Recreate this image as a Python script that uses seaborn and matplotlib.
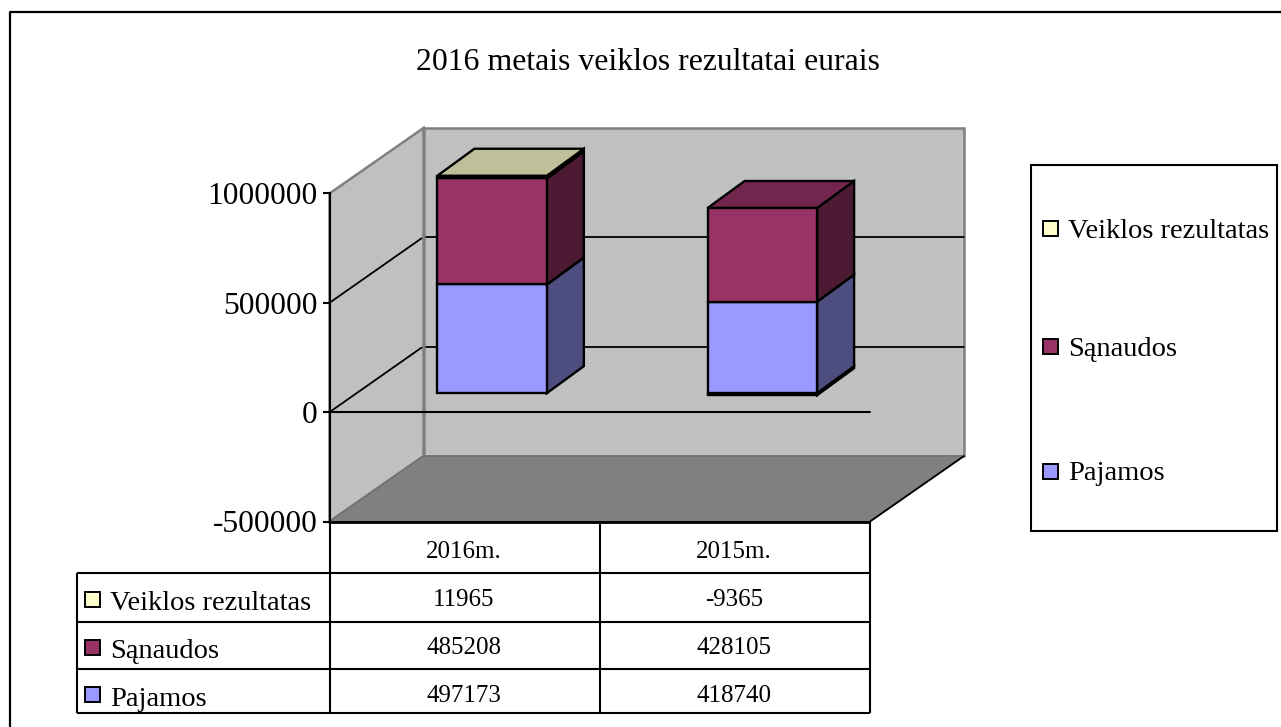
import numpy as np
import pandas as pd
import seaborn as sns
import matplotlib
matplotlib.use("Agg")
import matplotlib.pyplot as plt
from matplotlib.lines import Line2D
from matplotlib.patches import Polygon, Rectangle
from matplotlib.transforms import Affine2D, IdentityTransform

# ---------- data ----------
title = "2016 metais veiklos rezultatai eurais"
years = ["2016m.", "2015m."]
pajamos = [497173, 418740]
sanaudos = [485208, 428105]
veiklos = [11965, -9365]
series_names = ["Pajamos", "Sąnaudos", "Veiklos rezultatas"]
yticks = [-500000, 0, 500000, 1000000]

# ---------- style ----------
colors = ["#9999FF", "#993366", "#FFFFCC"]
W, H = 1281, 727
sns.set_theme(style="white")
plt.rcParams["font.family"] = ["Liberation Serif", "DejaVu Serif"]
plt.rcParams["font.size"] = 18

fig = plt.figure(figsize=(W / 100, H / 100), dpi=100, facecolor="white")
PX = Affine2D().scale(1, -1).translate(0, H)  # screen pixels, y downwards


def axes_rect(x0, y0, x1, y1):
    return [x0 / W, (H - y1) / H, (x1 - x0) / W, (y1 - y0) / H]


def pline(xs, ys, color="black", lw=1.5, z=1):
    fig.add_artist(Line2D(xs, ys, color=color, lw=lw, transform=PX, zorder=z,
                          solid_capstyle="butt"))


def ptext(x, y, s, size=18, ha="left", va="center_baseline"):
    fig.text(x / W, 1 - y / H, s, fontsize=size, ha=ha, va=va, color="black", zorder=5)


# geometry of the 3-D box, in pixels
FRONT = (329.5, 193.5, 870, 521.5)
DEPTH = np.array([94, 65.5])      # wall depth (right, up)
BAR_SHIFT = np.array([27.5, 19])  # bar plane offset
BAR_DEPTH = np.array([37, 27])  # bar depth

# front plane axes: carries the value axis
ax = fig.add_axes(axes_rect(*FRONT), zorder=1)
ax.patch.set_alpha(0)
ax.set_xlim(-0.5, 1.5)
ax.set_ylim(yticks[0], yticks[-1])
ax.set_xticks([])
ax.set_yticks(yticks)
ax.set_yticklabels([str(t) for t in yticks], fontsize=22.7, color="black")
ax.tick_params(axis="y", length=5, width=1.5, color="black", pad=3.5, left=True, labelcolor="black")
for name, spine in ax.spines.items():
    spine.set_visible(name == "left")
ax.spines["left"].set_color("black")
ax.spines["left"].set_linewidth(1.5)
fig.canvas.draw()

# walls and floor, derived from the front-plane scale
x0, x1 = ax.get_xlim()
ymin, ymax = ax.get_ylim()
to_disp = ax.transData.transform
(fl, fb), (fr, ft) = to_disp([(x0, ymin), (x1, ymax)])
dx, dy = DEPTH
wall_kw = dict(transform=IdentityTransform(), closed=True, zorder=0.2)
ax.add_patch(Polygon([(fl, fb), (fl + dx, fb + dy), (fl + dx, ft + dy), (fl, ft)],
                     facecolor="#C0C0C0", edgecolor="#808080", lw=1.8, clip_on=False, **wall_kw))
ax.add_patch(Polygon([(fl + dx, fb + dy), (fr + dx, fb + dy), (fr + dx, ft + dy), (fl + dx, ft + dy)],
                     facecolor="#C0C0C0", edgecolor="#808080", lw=1.8, clip_on=False, **wall_kw))
ax.add_patch(Polygon([(fl, fb), (fr, fb), (fr + dx, fb + dy), (fl + dx, fb + dy)],
                     facecolor="#808080", edgecolor="#707070", lw=1, clip_on=False, **wall_kw))
ax.add_artist(Line2D([fr, fr + dx], [fb, fb + dy], color="black", lw=1.3,
                     transform=IdentityTransform(), clip_on=False, zorder=0.3))
for t in yticks[1:-1]:
    _, yy = to_disp((x0, t))
    ax.add_artist(Line2D([fl, fl + dx - 2], [yy, yy + dy - 1], color="black", lw=1.3,
                         transform=IdentityTransform(), clip_on=False, zorder=0.4))
    ax.add_artist(Line2D([fl + dx + 2, fr + dx], [yy + dy, yy + dy], color="black", lw=1.3,
                         transform=IdentityTransform(), clip_on=False, zorder=0.4))
ax.axhline(0, color="black", lw=1.5, zorder=0.5, clip_on=False)

# bar plane axes: same scale, shifted into the box
bx0, by0, bx1, by1 = FRONT
axb = fig.add_axes(axes_rect(bx0 + BAR_SHIFT[0], by0 - BAR_SHIFT[1],
                             bx1 + BAR_SHIFT[0], by1 - BAR_SHIFT[1]), zorder=2)
axb.patch.set_alpha(0)

arrays = [np.array(pajamos, float), np.array(sanaudos, float), np.array(veiklos, float)]
pos_base = np.zeros(2)
neg_base = np.zeros(2)
for name, vals, col in zip(series_names, arrays, colors):
    bottoms = np.where(vals >= 0, pos_base, neg_base)
    df = pd.DataFrame({"year": years, "value": vals})
    sns.barplot(data=df, x="year", y="value", order=years, ax=axb, bottom=bottoms,
                color=col, saturation=1, width=0.405, edgecolor="black", linewidth=1.7,
                errorbar=None)
    pos_base = pos_base + np.where(vals >= 0, vals, 0)
    neg_base = neg_base + np.where(vals < 0, vals, 0)

axb.set_xlim(-0.5, 1.5)
axb.set_ylim(yticks[0], yticks[-1])
axb.set_axis_off()
fig.canvas.draw()


def shade(c, f):
    r = np.array(matplotlib.colors.to_rgb(c)) * f
    return tuple(r)


bdx, bdy = BAR_DEPTH
for patch in list(axb.patches):
    x, w = patch.get_x(), patch.get_width()
    y, h = patch.get_y(), patch.get_height()
    lo, hi = min(y, y + h), max(y, y + h)
    (xl, yl), (xr, yh) = axb.transData.transform([(x, lo), (x + w, hi)])
    z = 3 + (lo - yticks[0]) / 1e7
    fc = patch.get_facecolor()
    patch.set_zorder(z + 1e-6)
    pk = dict(transform=IdentityTransform(), closed=True, edgecolor="black", lw=1.7,
              zorder=z, clip_on=False, joinstyle="miter")
    axb.add_patch(Polygon([(xr, yl), (xr + bdx, yl + bdy), (xr + bdx, yh + bdy), (xr, yh)],
                          facecolor=shade(fc[:3], 0.5), **pk))
    axb.add_patch(Polygon([(xl, yh), (xr, yh), (xr + bdx, yh + bdy), (xl + bdx, yh + bdy)],
                          facecolor=shade(fc[:3], 0.75), **pk))

# outer chart frame
pline([9.5, 9.5, W], [H, 12, 12], lw=1.6, z=0)

# title
ptext(647.5, 59, title, size=22.9, ha="center")

# data table
tx = [76.5, 329.5, 600, 870]
rows_y = [572.5, 621.5, 669, 713]
pline([FRONT[0], FRONT[2]], [522, 522], lw=2, z=3)
pline([tx[0], tx[3]], [rows_y[0]] * 2)
pline([tx[0], tx[3]], [rows_y[1]] * 2)
pline([tx[0], tx[3]], [rows_y[2]] * 2)
pline([tx[0], tx[3]], [rows_y[3]] * 2)
pline([tx[0]] * 2, [rows_y[0], rows_y[3]])
for xv in tx[1:]:
    pline([xv, xv], [522, rows_y[3]])

mid_x = [(tx[1] + tx[2]) / 2 - 1, (tx[2] + tx[3]) / 2 - 1]
for mx, yr in zip(mid_x, years):
    ptext(mx, 550, yr, ha="center")

row_centres = [693, 645, 597]
key_centres = [694, 647, 599]
text_ys = [696, 648, 601]
for i, (name, vals, col) in enumerate(zip(series_names, arrays, colors)):
    fig.add_artist(Rectangle((84.5, key_centres[i] - 7.5), 15.5, 15, facecolor=col,
                             edgecolor="black", lw=1.4, transform=PX, zorder=3))
    ptext(110, text_ys[i], name, size=20.5)
    for mx, v in zip(mid_x, vals):
        ptext(mx, row_centres[i], str(int(v)), ha="center")

# legend
fig.add_artist(Rectangle((1031, 165), 246, 366, facecolor="white", edgecolor="black",
                         lw=1.5, transform=PX, zorder=1))
legend_y = [471, 346, 228]
for name, col, ly in zip(series_names, colors, legend_y):
    fig.add_artist(Rectangle((1042.5, ly - 7.5), 15.5, 15, facecolor=col, edgecolor="black",
                             lw=1.4, transform=PX, zorder=3))
    ptext(1068, ly, name, size=20.5)

fig.savefig("out.png", dpi=100, facecolor="white")
